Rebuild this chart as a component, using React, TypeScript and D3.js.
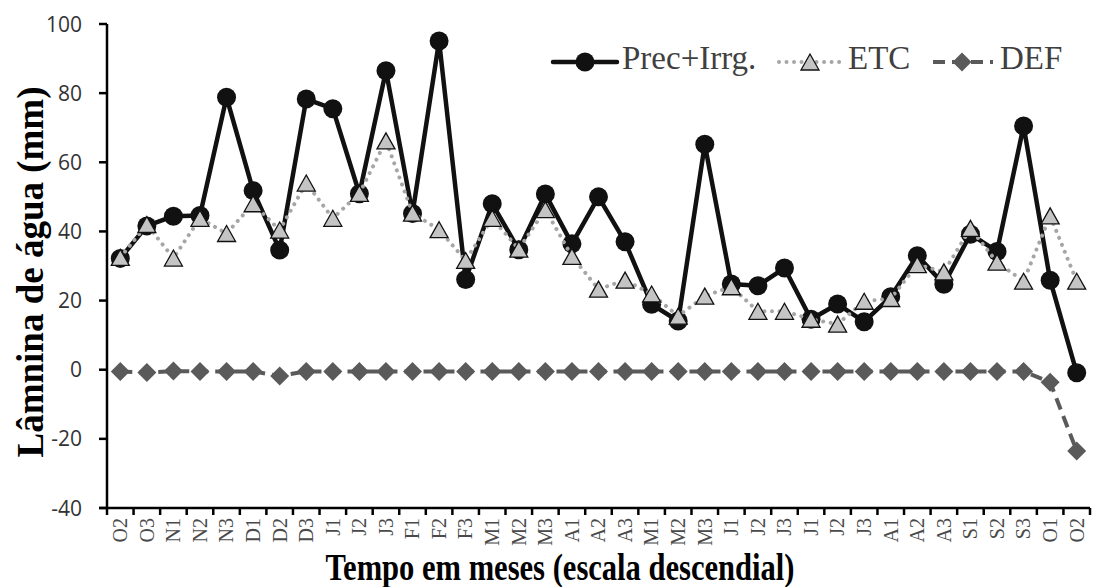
import React from 'react';
import * as d3 from 'd3';

// data
const months = ['O2', 'O3', 'N1', 'N2', 'N3', 'D1', 'D2', 'D3', 'J1', 'J2', 'J3', 'F1', 'F2', 'F3',
  'M1', 'M2', 'M3', 'A1', 'A2', 'A3', 'M1', 'M2', 'M3', 'J1', 'J2', 'J3', 'J1', 'J2', 'J3',
  'A1', 'A2', 'A3', 'S1', 'S2', 'S3', 'O1', 'O2'];
const precIrrg = [32.2, 41.6, 44.4, 44.6, 78.8, 51.8, 34.6, 78.3, 75.5, 50.9, 86.5, 45.2, 95.1, 26.1,
  48, 34.7, 50.8, 36.4, 50, 37, 18.9, 14.1, 65.2, 24.8, 24.3, 29.4, 14.6, 19, 13.9,
  21.1, 33, 24.7, 39.2, 34.2, 70.5, 25.9, -0.9];
const etc = [32.5, 42, 32.3, 43.8, 39.4, 48, 40.4, 54, 43.8, 51, 66.2, 45.3, 40.5, 31.6,
  43.8, 34.9, 46.3, 32.8, 23.3, 25.9, 21.9, 15.5, 21.3, 24, 16.9, 16.9, 14.6, 13.2, 19.8,
  20.6, 30.4, 28.3, 40.9, 31.1, 25.6, 44.5, 25.6];
const def = [-0.5, -0.8, -0.4, -0.5, -0.5, -0.5, -1.8, -0.5, -0.5, -0.5, -0.5, -0.5, -0.5, -0.5,
  -0.5, -0.5, -0.5, -0.5, -0.5, -0.5, -0.5, -0.5, -0.5, -0.5, -0.5, -0.5, -0.5, -0.5, -0.5,
  -0.5, -0.5, -0.5, -0.5, -0.5, -0.5, -3.6, -23.5];
const yTicks = [-40, -20, 0, 20, 40, 60, 80, 100];

const W = 1102;
const H = 587;
const left = 107;
const right = 1090;
const top = 24;
const bottom = 508;

const serif = '"Liberation Serif", "Times New Roman", serif';

const tri = (cx: number, cy: number, w = 18, h = 16) =>
  `M${cx},${cy - h / 2}L${cx + w / 2},${cy + h / 2}L${cx - w / 2},${cy + h / 2}Z`;
const diamond = (cx: number, cy: number, r = 9.5) =>
  `M${cx},${cy - r}L${cx + r},${cy}L${cx},${cy + r}L${cx - r},${cy}Z`;

export default function App() {
  const idx = months.map((_, i) => String(i));
  const x = d3.scaleBand().domain(idx).range([left, right]).padding(0);
  const y = d3.scaleLinear().domain([-40, 100]).range([bottom, top]);
  const cx = (i: number) => (x(String(i)) as number) + x.bandwidth() / 2;

  const line = d3.line<number>().x((_, i) => cx(i)).y(d => y(d));
  const boundaries = [...idx.map(i => x(i) as number), right];

  return (
    <div style={{ position: 'absolute', left: 0, top: 0 }}>
      <svg width={W} height={H} style={{ display: 'block', background: '#fff' }}>
        {/* y axis */}
        <line x1={left} x2={left} y1={top} y2={bottom} stroke="#000" strokeWidth={2.5} />
        {yTicks.map(t => (
          <g key={t}>
            <line x1={left - 8} x2={left} y1={y(t)} y2={y(t)} stroke="#000" strokeWidth={2.5} />
            <text x={left - 25} y={y(t)} dy="0.36em" textAnchor="end"
              fontFamily='"Open Sans", sans-serif' fontSize={21} fill="#333">{t}</text>
          </g>
        ))}
        {/* x axis */}
        <line x1={left - 8} x2={right} y1={bottom} y2={bottom} stroke="#000" strokeWidth={2.5} />
        {boundaries.map((b, i) => (
          <line key={i} x1={b} x2={b} y1={bottom} y2={bottom + 7} stroke="#000" strokeWidth={2.5} />
        ))}
        {months.map((m, i) => (
          <text key={i} transform={`translate(${cx(i)},${bottom + 10}) rotate(-90)`} dy="0.34em"
            textAnchor="end" fontFamily={serif} fontSize={20} fill="#4a4a4a">{m}</text>
        ))}

        {/* Prec+Irrg. */}
        <path d={line(precIrrg) as string} fill="none" stroke="#111" strokeWidth={4.5} strokeLinejoin="round" />
        {precIrrg.map((v, i) => (
          <circle key={i} cx={cx(i)} cy={y(v)} r={9.5} fill="#111" />
        ))}

        {/* ETC */}
        <path d={line(etc) as string} fill="none" stroke="#a6a6a6" strokeWidth={4}
          strokeLinecap="round" strokeDasharray="0.01 7.5" />
        {etc.map((v, i) => (
          <path key={i} d={tri(cx(i), y(v))} fill="#c4c4c4" stroke="#111" strokeWidth={1.3} />
        ))}

        {/* DEF */}
        <path d={line(def) as string} fill="none" stroke="#5a5a5a" strokeWidth={4}
          strokeDasharray="12 7" />
        {def.map((v, i) => (
          <path key={i} d={diamond(cx(i), y(v))} fill="#5a5a5a" />
        ))}

        {/* legend */}
        <g fontFamily={serif} fontSize={33} fill="#404040">
          <line x1={553} x2={617} y1={62} y2={62} stroke="#111" strokeWidth={4.5} strokeLinecap="round" />
          <circle cx={585} cy={62} r={9.5} fill="#111" />
          <text x={622} y={69}>Prec+Irrg.</text>

          <line x1={779} x2={840} y1={62} y2={62} stroke="#a6a6a6" strokeWidth={4}
            strokeLinecap="round" strokeDasharray="0.01 7.5" />
          <path d={tri(810, 62)} fill="#c4c4c4" stroke="#111" strokeWidth={1.3} />
          <text x={848} y={69}>ETC</text>

          <line x1={933} x2={993} y1={62} y2={62} stroke="#5a5a5a" strokeWidth={4} strokeDasharray="12 7" />
          <path d={diamond(962, 62)} fill="#5a5a5a" />
          <text x={1000} y={69}>DEF</text>
        </g>

        {/* axis titles */}
        <text x={560} y={580} textAnchor="middle" fontFamily={serif} fontWeight="bold" fontSize={37}
          textLength={469} lengthAdjust="spacingAndGlyphs" fill="#000">Tempo em meses (escala descendial)</text>
        <text transform={`translate(43,272) rotate(-90)`} textAnchor="middle" fontFamily={serif}
          fontWeight="bold" fontSize={37} fill="#000">Lâmnina de água (mm)</text>
      </svg>
    </div>
  );
}
